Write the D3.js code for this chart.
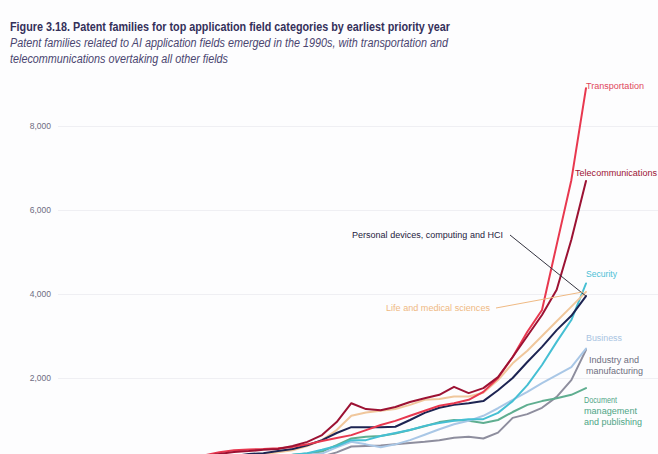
<!DOCTYPE html>
<html>
<head>
<meta charset="utf-8">
<script src="https://cdn.jsdelivr.net/npm/d3@7/dist/d3.min.js"></script>
<style>
  html, body { margin: 0; padding: 0; background: #fdfdfe; }
  svg { display: block; }
  text { font-family: "Liberation Sans", Arial, sans-serif; }
</style>
</head>
<body>
<svg id="chart" width="658" height="454"></svg>
<script>
// ---- Data ----
const years = d3.range(1986, 2017);

const transportation = [30, 40, 60, 90, 160, 230, 280, 300, 310, 330, 360, 420, 500, 570, 640, 760, 880, 980, 1100, 1220, 1340, 1400, 1480, 1670, 2000, 2500, 3100, 3620, 5170, 6710, 8900];
const telecommunications = [20, 30, 40, 60, 140, 190, 240, 260, 290, 310, 380, 480, 640, 950, 1400, 1260, 1230, 1310, 1430, 1520, 1600, 1790, 1640, 1760, 2020, 2500, 3000, 3500, 4100, 5290, 6690];
const personalDevices = [10, 20, 30, 50, 80, 110, 140, 190, 210, 260, 310, 400, 520, 690, 830, 830, 830, 840, 1000, 1170, 1290, 1360, 1400, 1450, 1710, 2000, 2380, 2740, 3140, 3480, 3950];
const lifeMedical = [10, 20, 30, 40, 70, 100, 130, 160, 190, 230, 280, 380, 520, 760, 1100, 1180, 1220, 1260, 1360, 1480, 1500, 1560, 1560, 1650, 1950, 2350, 2650, 3000, 3350, 3700, 4050];
const security = [5, 10, 15, 20, 40, 60, 80, 100, 120, 140, 170, 210, 290, 380, 520, 520, 620, 690, 760, 860, 930, 980, 1020, 1020, 1170, 1450, 1830, 2310, 2860, 3380, 4250];
const business = [5, 8, 10, 15, 30, 40, 60, 80, 100, 120, 150, 180, 200, 350, 480, 420, 350, 420, 520, 650, 780, 900, 980, 1100, 1280, 1480, 1670, 1880, 2070, 2260, 2700];
const industry = [5, 8, 10, 15, 20, 30, 40, 50, 60, 80, 100, 110, 130, 230, 370, 380, 390, 420, 450, 480, 520, 580, 600, 560, 700, 1050, 1140, 1290, 1550, 1950, 2670];
const documentMgmt = [5, 10, 15, 20, 40, 60, 80, 100, 120, 140, 170, 200, 250, 400, 560, 600, 620, 680, 760, 850, 950, 1000, 980, 930, 1000, 1190, 1360, 1450, 1520, 1600, 1760];

const yTicks = [2000, 4000, 6000, 8000];

const titleText = "Figure 3.18. Patent families for top application field categories by earliest priority year";
const subtitleLines = [
  "Patent families related to AI application fields emerged in the 1990s, with transportation and",
  "telecommunications overtaking all other fields"
];

// series in drawing order (bottom to top)
const series = [
  { name: "Industry and manufacturing", values: industry, color: "#8e8e9e" },
  { name: "Document management and publishing", values: documentMgmt, color: "#5fae90" },
  { name: "Business", values: business, color: "#a9c7e6" },
  { name: "Security", values: security, color: "#45bfd3" },
  { name: "Life and medical sciences", values: lifeMedical, color: "#f0c79c" },
  { name: "Personal devices, computing and HCI", values: personalDevices, color: "#1d2452" },
  { name: "Transportation", values: transportation, color: "#e8384f" },
  { name: "Telecommunications", values: telecommunications, color: "#9c1233" }
];

// ---- Layout ----
const svg = d3.select("#chart");
const x = d3.scaleLinear().domain([1980, 2016]).range([58, 586]);
const y = d3.scaleLinear().domain([0, 8000]).range([462, 126]);

// Title & subtitle
svg.append("text")
  .attr("x", 10).attr("y", 31)
  .attr("font-size", 13).attr("font-weight", "bold")
  .attr("fill", "#34305a")
  .attr("textLength", 440).attr("lengthAdjust", "spacingAndGlyphs")
  .text(titleText);

const subW = [438, 218];
subtitleLines.forEach((t, i) => {
  svg.append("text")
    .attr("x", 10).attr("y", 47 + i * 15.5)
    .attr("font-size", 12.5).attr("font-style", "italic")
    .attr("fill", "#4a4570")
    .attr("textLength", subW[i]).attr("lengthAdjust", "spacingAndGlyphs")
    .text(t);
});

// Y axis (gridlines + labels)
const yAxis = d3.axisLeft(y)
  .tickValues(yTicks)
  .tickSize(-600)
  .tickPadding(7)
  .tickFormat(d3.format(","));
const gy = svg.append("g").attr("transform", "translate(58,0)").call(yAxis);
gy.select(".domain").remove();
gy.selectAll(".tick line").attr("stroke", "#efeff3").attr("stroke-width", 1);
gy.selectAll(".tick text")
  .attr("fill", "#6e6c82")
  .attr("font-size", 8.5)
  .attr("font-family", "Liberation Sans, Arial, sans-serif");

// Lines
const line = d3.line()
  .x((d, i) => x(years[i]))
  .y(d => y(d));

svg.append("g").selectAll("path")
  .data(series)
  .join("path")
  .attr("d", d => line(d.values))
  .attr("fill", "none")
  .attr("stroke", d => d.color)
  .attr("stroke-width", 2)
  .attr("stroke-linejoin", "round")
  .attr("stroke-linecap", "round");

// Labels
const labels = [
  { lines: ["Transportation"], x: 586, y: 89, color: "#e0475c", w: [58] },
  { lines: ["Telecommunications"], x: 575, y: 176, color: "#9c1233", w: [82] },
  { lines: ["Personal devices, computing and HCI"], x: 352, y: 238, color: "#1d2240", w: [151] },
  { lines: ["Security"], x: 586, y: 277, color: "#4cbfd6", w: [31] },
  { lines: ["Life and medical sciences"], x: 386, y: 311, color: "#efb983", w: [104] },
  { lines: ["Business"], x: 586, y: 341, color: "#a9c4e2", w: [36] },
  { lines: ["Industry and", "manufacturing"], x: 589, y: 363, color: "#6e6e7e", w: [50, 57], dx: [0, -3] },
  { lines: ["Document", "management", "and publishing"], x: 584, y: 403, color: "#4ea586", w: [33, 53, 58] }
];

labels.forEach(l => {
  l.lines.forEach((t, i) => {
    svg.append("text")
      .attr("x", l.x + (l.dx ? l.dx[i] : 0))
      .attr("y", l.y + i * 11)
      .attr("font-size", 8.5)
      .attr("fill", l.color)
      .attr("textLength", l.w[i]).attr("lengthAdjust", "spacingAndGlyphs")
      .text(t);
  });
});

// Leader lines
const lastIdx = years.length - 1;
svg.append("line")
  .attr("x1", 510).attr("y1", 235)
  .attr("x2", x(years[lastIdx])).attr("y2", y(personalDevices[lastIdx]))
  .attr("stroke", "#33333f").attr("stroke-width", 1);
svg.append("line")
  .attr("x1", 496).attr("y1", 308)
  .attr("x2", x(years[lastIdx]) - 3).attr("y2", y(lifeMedical[lastIdx]))
  .attr("stroke", "#efb983").attr("stroke-width", 1);
</script>
</body>
</html>
